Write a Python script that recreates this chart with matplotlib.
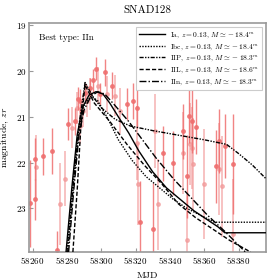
import numpy as np
import matplotlib
matplotlib.use("Agg")
import matplotlib.pyplot as plt

plt.rcParams['font.family'] = 'serif'
plt.rcParams['font.serif'] = ['cmr10']
plt.rcParams['mathtext.fontset'] = 'cm'
plt.rcParams['axes.formatter.use_mathtext'] = True
plt.rcParams['axes.unicode_minus'] = False

# --- observations (zr band) ---
mjd_dark = [58258.3, 58261.5, 58261.5, 58266.2, 58271.4, 58274.3, 58280.7, 58284.8,
            58286.5, 58287.7, 58290.6, 58293.5, 58295.3, 58297.0, 58299.3, 58302.3,
            58306.3, 58315.0, 58318.6, 58320.9, 58322.6, 58330.2, 58336.0, 58341.9,
            58347.7, 58350.0, 58351.2, 58352.9, 58355.3, 58366.9, 58368.7, 58372.2,
            58376.8]
mag_dark = [22.89, 21.92, 22.80, 21.86, 21.75, 23.90, 21.15, 21.10,
            20.60, 20.65, 20.47, 20.36, 20.20, 19.95, 20.50, 20.03,
            20.32, 20.71, 20.65, 20.80, 23.29, 23.44, 21.79, 22.01,
            21.31, 22.30, 20.98, 21.09, 21.22, 22.08, 21.53, 21.64,
            22.03]
err_dark = [0.95, 0.45, 0.45, 0.40, 0.50, 0.40, 0.35, 0.30,
            0.25, 0.25, 0.20, 0.20, 0.25, 0.25, 0.25, 0.30,
            0.30, 0.35, 0.40, 0.45, 0.90, 1.00, 0.60, 0.70,
            0.60, 0.90, 0.60, 0.70, 0.60, 0.80, 0.70, 0.70,
            1.10]

mjd_light = [58262.0, 58276.0, 58279.0, 58283.0, 58286.0, 58287.7, 58289.4, 58291.8,
             58293.5, 58298.2, 58303.4, 58308.0, 58311.0, 58320.9, 58321.5, 58331.4,
             58333.1, 58347.7, 58350.0, 58351.8, 58352.9, 58353.5, 58359.9, 58368.7,
             58370.4, 58376.8]
mag_light = [22.10, 22.90, 22.35, 21.24, 20.80, 21.20, 20.87, 20.65,
             20.50, 20.32, 20.50, 20.54, 20.87, 21.57, 22.47, 21.31,
             22.91, 21.79, 23.68, 21.59, 21.68, 22.03, 22.47, 22.14,
             22.52, 23.55]
err_light = [0.70, 0.90, 0.60, 0.45, 0.35, 0.40, 0.35, 0.35,
             0.35, 0.40, 0.40, 0.45, 0.50, 0.80, 0.90, 0.80,
             1.00, 0.90, 1.00, 0.90, 0.90, 1.00, 1.20, 1.00,
             1.10, 1.20]

# --- best-fit templates ---
ia_t = [58279.5, 58283, 58286, 58289, 58293, 58297, 58301, 58305, 58310, 58316,
        58322, 58330, 58338, 58346, 58354, 58362, 58368, 58372, 58396]
ia_m = [23.95, 22.5, 21.4, 20.8, 20.52, 20.45, 20.5, 20.7, 21.0, 21.35,
        21.75, 22.2, 22.55, 22.8, 23.05, 23.25, 23.4, 23.53, 23.53]

ibc_t = [58280, 58284, 58287, 58290, 58294, 58298, 58304, 58310, 58318, 58326,
         58334, 58342, 58350, 58358, 58366, 58396]
ibc_m = [23.95, 22.3, 21.3, 20.75, 20.55, 20.65, 21.05, 21.5, 21.95, 22.3,
         22.55, 22.8, 23.0, 23.15, 23.3, 23.3]

iip_t = [58280.5, 58284, 58287, 58290.6, 58295, 58300, 58308, 58317, 58330, 58345,
         58360, 58373, 58380, 58388, 58396]
iip_m = [23.95, 22.4, 21.2, 20.25, 20.55, 20.8, 21.05, 21.2, 21.3, 21.4,
         21.5, 21.6, 21.8, 22.05, 22.35]

iil_t = [58283.5, 58286, 58288, 58290.5, 58296, 58305, 58315, 58325, 58335, 58345,
         58355, 58365, 58375, 58387]
iil_m = [23.95, 22.6, 21.3, 20.3, 20.7, 21.1, 21.6, 22.05, 22.45, 22.9,
         23.2, 23.45, 23.7, 23.95]

iin_t = [58281, 58284, 58287, 58290, 58294, 58298, 58302, 58308, 58316, 58324,
         58332, 58342, 58352, 58362, 58372, 58384]
iin_m = [23.95, 22.6, 21.4, 20.85, 20.55, 20.45, 20.5, 20.75, 21.1, 21.5,
         21.9, 22.35, 22.75, 23.15, 23.5, 23.95]

labels = [r"Ia, $z = 0.13$, $M \simeq -18.4^m$",
          r"Ibc, $z = 0.13$, $M \simeq -18.4^m$",
          r"IIP, $z = 0.13$, $M \simeq -18.3^m$",
          r"IIL, $z = 0.13$, $M \simeq -18.6^m$",
          r"IIn, $z = 0.13$, $M \simeq -18.3^m$"]

fig = plt.figure(figsize=(2.8, 2.8), dpi=100)
ax = fig.add_axes([0.104, 0.1, 0.846, 0.818])

ax.errorbar(mjd_light, mag_light, yerr=err_light, fmt='o', ms=2.5, color='#f29a9a',
            alpha=0.7, elinewidth=1.2, capsize=0, zorder=1)
ax.errorbar(mjd_dark, mag_dark, yerr=err_dark, fmt='o', ms=2.5, color='#ef6f6f',
            alpha=0.85, elinewidth=1.0, capsize=0, zorder=2)

ax.plot(ia_t, ia_m, color='k', lw=1.0, ls='-', label=labels[0], zorder=3)
ax.plot(ibc_t, ibc_m, color='k', lw=1.0, ls=(0, (1, 1)), label=labels[1], zorder=3)
ax.plot(iip_t, iip_m, color='k', lw=1.0, ls=(0, (3, 1, 1, 1, 1, 1)), label=labels[2], zorder=3)
ax.plot(iil_t, iil_m, color='k', lw=1.0, ls=(0, (3, 1.5)), label=labels[3], zorder=3)
ax.plot(iin_t, iin_m, color='k', lw=1.0, ls=(0, (5, 1.5, 1, 1.5)), label=labels[4], zorder=3)

ax.set_xlim(58258, 58396)
ax.set_ylim(23.95, 18.95)
ax.set_xticks([58260, 58280, 58300, 58320, 58340, 58360, 58380])
ax.set_yticks([19, 20, 21, 22, 23])
ax.tick_params(direction='in', color='#999999', labelsize=6.5, length=3, pad=2)
for s in ax.spines.values():
    s.set_color('#999999')
    s.set_linewidth(1.2)

ax.set_xlabel("MJD", fontsize=7, labelpad=4)
ax.set_ylabel(r"magnitude, $zr$", fontsize=7, labelpad=3)
ax.set_title("SNAD128", fontsize=8, pad=7)
ax.text(0.04, 0.955, "Best type: IIn", transform=ax.transAxes, fontsize=6.5,
        va='top', ha='left')

leg = ax.legend(loc='upper right', fontsize=5.4, handlelength=3.4, borderpad=0.45,
                labelspacing=0.3, handletextpad=0.7, fancybox=False, framealpha=1)
leg.get_frame().set_edgecolor('#cccccc')
leg.get_frame().set_linewidth(0.8)

fig.savefig("out.png", dpi=100)
